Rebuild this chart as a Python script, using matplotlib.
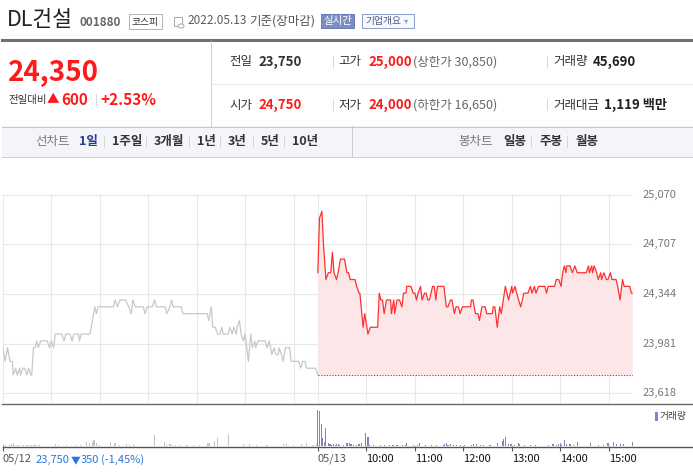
import matplotlib
matplotlib.use("Agg")
import matplotlib.pyplot as plt
from matplotlib.patches import Rectangle, Circle
from matplotlib.lines import Line2D

plt.rcParams['font.family'] = ['Noto Sans CJK KR', 'DejaVu Sans']

# ---- data ----
# minutes after 09:00, 05/12 (previous session, grey line)
prev_minutes = [0, 3, 6, 9, 12, 13, 16, 18, 21, 22, 25, 27, 30, 32, 35, 36, 38, 40, 42, 44,
                47, 55, 58, 60, 63, 65, 73, 76, 78, 83, 86, 88, 94, 95, 97, 108, 111, 114, 116, 118,
                137, 139, 142, 145, 152, 156, 159, 161, 164, 174, 176, 179, 185, 188, 190, 201, 203, 207, 209, 211,
                221, 223, 253, 255, 258, 260, 263, 266, 269, 271, 273, 279, 281, 284, 286, 289, 290, 293, 295, 298,
                300, 301, 304, 307, 309, 312, 313, 316, 325, 327, 330, 333, 336, 338, 341, 342, 345, 347, 350, 355,
                357, 366, 369, 371, 374, 376, 387, 390]
prev_prices = [23950, 23850, 23950, 23850, 23850, 23750, 23800, 23750, 23800, 23750, 23800, 23800, 23750, 23800, 23750, 23750, 23950, 23950, 24000, 23950,
               24000, 24000, 23950, 24000, 23950, 24050, 24050, 24000, 24050, 24050, 24000, 24050, 24050, 24000, 24050, 24050, 24150, 24250, 24200, 24250,
               24250, 24300, 24250, 24300, 24300, 24250, 24200, 24300, 24250, 24250, 24200, 24250, 24250, 24300, 24250, 24250, 24200, 24250, 24300, 24250,
               24250, 24200, 24200, 24150, 24250, 24100, 24100, 24050, 24050, 24100, 24050, 24050, 24100, 24050, 24100, 24050, 24100, 24150, 24050, 24000,
               24050, 24000, 23850, 24050, 23950, 24000, 23950, 24000, 24000, 23950, 24000, 23900, 23950, 23900, 23900, 23950, 23900, 23850, 23950, 23950,
               23850, 23850, 23800, 23850, 23850, 23800, 23800, 23750]

# minutes after 09:00, 05/13 (today, red line)
today_minutes = [0, 2, 5, 7, 10, 13, 16, 18, 20, 23, 25, 28, 33, 36, 38, 40, 46, 48, 51, 52,
                 56, 58, 62, 65, 74, 76, 78, 80, 82, 85, 90, 91, 94, 95, 98, 101, 104, 106, 109, 110,
                 115, 118, 120, 122, 124, 127, 129, 132, 134, 136, 138, 142, 144, 146, 148, 156, 159, 161, 164, 166,
                 169, 171, 174, 176, 179, 189, 190, 192, 195, 198, 200, 203, 207, 209, 216, 217, 219, 222, 225, 227,
                 232, 234, 236, 240, 241, 244, 246, 251, 255, 260, 263, 265, 268, 270, 273, 281, 283, 285, 293, 295,
                 298, 301, 303, 305, 307, 308, 312, 315, 318, 321, 332, 335, 336, 339, 340, 342, 345, 347, 350, 351,
                 354, 357, 359, 362, 364, 369, 371, 374, 377, 379, 386, 388, 389]
today_prices = [24500, 24900, 24950, 24700, 24450, 24500, 24500, 24650, 24500, 24450, 24500, 24600, 24600, 24500, 24500, 24450, 24450, 24400, 24350, 24350,
                24100, 24200, 24050, 24100, 24100, 24350, 24300, 24300, 24200, 24300, 24300, 24200, 24300, 24200, 24300, 24300, 24250, 24350, 24350, 24400,
                24400, 24350, 24350, 24300, 24350, 24400, 24300, 24350, 24350, 24300, 24300, 24400, 24400, 24300, 24400, 24400, 24250, 24250, 24300, 24300,
                24200, 24250, 24250, 24200, 24250, 24250, 24300, 24300, 24200, 24200, 24150, 24250, 24250, 24200, 24200, 24250, 24250, 24100, 24250, 24200,
                24400, 24350, 24300, 24400, 24350, 24400, 24350, 24250, 24350, 24350, 24400, 24350, 24400, 24350, 24400, 24400, 24350, 24400, 24400, 24450,
                24450, 24400, 24500, 24550, 24500, 24550, 24550, 24500, 24550, 24500, 24500, 24550, 24500, 24550, 24500, 24550, 24500, 24450, 24500, 24450,
                24500, 24450, 24450, 24500, 24450, 24450, 24400, 24300, 24450, 24400, 24400, 24350, 24350]

prev_close = 23750
price_ticks = [23618, 23981, 24344, 24707, 25070]

# volume bars (minute, shares)
prev_vol_minutes = [1, 3, 8, 11, 13, 15, 19, 26, 30, 33, 36, 38, 40, 45, 65, 69, 79, 91, 96, 104,
                    107, 111, 113, 116, 120, 133, 139, 145, 153, 157, 162, 188, 200, 203, 207, 210, 214, 219, 228, 236,
                    244, 254, 256, 262, 266, 279, 298, 305, 314, 327, 347, 351, 360, 370, 376, 384, 389]
prev_volumes = [140, 70, 70, 140, 210, 70, 70, 70, 70, 70, 70, 70, 70, 70, 140, 70, 70, 70, 70, 280,
                210, 280, 420, 210, 70, 280, 210, 70, 140, 70, 140, 770, 280, 70, 140, 70, 70, 70, 70, 70,
                70, 210, 210, 350, 560, 840, 140, 140, 70, 70, 140, 140, 70, 140, 210, 70, 140]
today_vol_minutes = [0, 2, 4, 6, 8, 10, 13, 15, 17, 19, 22, 23, 26, 27, 32, 36, 39, 41, 44, 48,
                     50, 52, 54, 59, 62, 64, 69, 77, 82, 89, 93, 98, 105, 108, 110, 118, 123, 126, 133, 141,
                     147, 155, 157, 159, 161, 164, 168, 172, 176, 182, 190, 193, 196, 201, 205, 213, 222, 228, 230, 232,
                     236, 239, 243, 248, 250, 256, 263, 269, 285, 291, 295, 298, 300, 302, 305, 308, 312, 316, 321, 337,
                     347, 353, 359, 366, 370, 374, 378, 389]
today_volumes = [2520, 2450, 1540, 560, 280, 1260, 210, 140, 70, 140, 70, 140, 140, 70, 70, 210, 210, 140, 70, 70,
                 140, 140, 210, 910, 630, 70, 70, 70, 70, 70, 70, 70, 70, 70, 210, 70, 70, 210, 70, 70,
                 70, 70, 140, 210, 70, 140, 70, 70, 70, 70, 70, 140, 140, 70, 70, 70, 210, 350, 490, 630,
                 140, 140, 70, 210, 140, 70, 70, 70, 70, 140, 70, 140, 210, 70, 420, 140, 140, 70, 280, 210,
                 70, 70, 210, 280, 140, 140, 140, 280]

x_ticks = [0, 390, 450, 510, 570, 630, 690, 750]
x_tick_labels = ['05/12', '05/13', '10:00', '11:00', '12:00', '13:00', '14:00', '15:00']

W, H = 693, 472
fig = plt.figure(figsize=(W / 100, H / 100), dpi=100)
fig.patch.set_facecolor('white')


def fx(x):
    return x / W


def fy(y):
    return 1 - y / H


def txt(x, y, s, size=9, color='#333333', weight='normal', ha='left', **kw):
    fig.text(fx(x), fy(y), s, fontsize=size, color=color, fontweight=weight,
             ha=ha, va='center', **kw)


def hline(x0, x1, y, color, lw=0.72):
    fig.add_artist(Line2D([fx(x0), fx(x1)], [fy(y), fy(y)], transform=fig.transFigure,
                          color=color, lw=lw))


def vline(x, y0, y1, color, lw=0.72):
    fig.add_artist(Line2D([fx(x), fx(x)], [fy(y0), fy(y1)], transform=fig.transFigure,
                          color=color, lw=lw))


def box(x0, y0, x1, y1, fc='none', ec='none', lw=0.72):
    fig.add_artist(Rectangle((fx(x0), fy(y1)), (x1 - x0) / W, (y1 - y0) / H,
                             transform=fig.transFigure, fc=fc, ec=ec, lw=lw))


# ---- header ----
txt(7, 20, 'DL건설', size=15.5, color='#222222')
txt(79, 22, '001880', size=8.5, color='#666666', weight='bold')
box(129, 14, 162, 29, fc='white', ec='#b5b5b5')
txt(145.5, 21.5, '코스피', size=7, color='#333333', ha='center')
box(174, 17, 182, 26, fc='white', ec='#aaaaaa')
fig.add_artist(Circle((fx(181), fy(26)), 3 / W, transform=fig.transFigure, fc='white', ec='#aaaaaa', lw=0.72))
txt(187, 21, '2022.05.13', size=8.5, color='#5a5a5a')
txt(249, 21, '기준(장마감)', size=9, color='#555555')
box(321, 14, 354, 28, fc='#7b8dc5', ec='#6b7db8')
txt(337.5, 21, '실시간', size=7.5, color='white', ha='center')
box(362, 14, 414, 28, fc='#f7f8fd', ec='#8d9fcf')
txt(365, 21, '기업개요', size=7, color='#4d5a87')
txt(404, 21, '▾', size=6, color='#8d9fcf')

hline(2, 693, 39.5, '#6e7176', lw=2.2)

# price box
txt(8, 73, '24,350', size=20, color='#ff1a1a', weight='bold')
txt(8, 100, '전일대비', size=7.5, color='#333333')
txt(47, 100, '▲', size=9, color='#ff1a1a')
txt(61, 100, '600', size=11, color='#ff1a1a', weight='bold')
txt(95, 100, '|', size=8, color='#cccccc')
txt(100, 100, '+2.53%', size=11, color='#ff1a1a', weight='bold')
vline(210.5, 41, 126, '#d0d0d0')

rows = [(62, '전일', '23,750', '#333333', '고가', '25,000', '(상한가 30,850)', '거래량', '45,690'),
        (105, '시가', '24,750', '#ff1a1a', '저가', '24,000', '(하한가 16,650)', '거래대금', '1,119 백만')]
for y, l1, v1, c1, l2, v2, note, l3, v3 in rows:
    txt(229, y, l1, size=9, color='#333333')
    txt(258, y, v1, size=9.5, color=c1, weight='bold')
    txt(332, y, '|', size=8, color='#cccccc')
    txt(338, y, l2, size=9, color='#333333')
    txt(368, y, v2, size=9.5, color='#ff1a1a', weight='bold')
    txt(413, y, note, size=9, color='#666666')
    txt(546, y, '|', size=8, color='#cccccc')
    txt(553, y, l3, size=9, color='#333333')
    txt(593 if l3 == '거래량' else 604, y, v3, size=9.5, color='#222222', weight='bold')
hline(211, 693, 83.5, '#e6e6e6')

# tab bar
box(2, 126, 693, 157, fc='#f4f5f8', ec='none')
hline(2, 693, 126.5, '#c8c8c8')
hline(2, 693, 157, '#d0d0d0')
vline(352, 126, 157, '#cccccc')
txt(35, 142, '선차트', size=9, color='#777777')
tabs = [(79, '1일'), (112, '1주일'), (154, '3개월'), (197, '1년'), (228, '3년'), (261, '5년'), (292, '10년')]
for i, (x, s) in enumerate(tabs):
    txt(x, 142, s, size=9, color='#1f3f9f' if i == 0 else '#333333', weight='bold')
    if i < len(tabs) - 1:
        txt(tabs[i + 1][0] - 9, 142, '|', size=8, color='#cccccc')
txt(458, 142, '봉차트', size=9, color='#777777')
for x, s in [(503, '일봉'), (539, '주봉'), (576, '월봉')]:
    txt(x, 142, s, size=9, color='#333333', weight='bold')
txt(530, 142, '|', size=8, color='#cccccc')
txt(566, 142, '|', size=8, color='#cccccc')

# ---- price chart ----
ax = fig.add_axes([fx(2.7), fy(403), (633 - 2.7) / W, (403 - 194) / H])
ax.set_xlim(0, 780)
ax.set_ylim(23545, 25077)
for v in price_ticks:
    ax.axhline(v, color='#e8e8e8', lw=0.8, zorder=0)
for m in [0] + list(range(60, 390, 60)) + x_ticks[1:]:
    ax.axvline(m, color='#e8e8e8', lw=0.8, zorder=0)

today_x = [m + 390 for m in today_minutes]
ax.plot(prev_minutes, prev_prices, color='#c5c8ce', lw=0.9)
ax.fill_between(today_x, today_prices, prev_close, color='#fde6e8', lw=0, zorder=1)
ax.plot(today_x, today_prices, color='#ff3030', lw=0.9, zorder=3)
ax.plot([390, 780], [prev_close, prev_close], color='#555555', lw=0.8, ls=(0, (1, 1.5)), zorder=2)
for s in ax.spines.values():
    s.set_visible(False)
ax.set_xticks([])
ax.set_yticks([])
for v in price_ticks:
    ax.annotate(f'{v:,}', xy=(1, v), xycoords=('axes fraction', 'data'), xytext=(7, 0),
                textcoords='offset points', fontsize=8, color='#777777', va='center', ha='left',
                annotation_clip=False)

# ---- volume chart ----
vax = fig.add_axes([fx(2.7), fy(446), (633 - 2.7) / W, (446 - 403) / H])
vax.set_xlim(0, 780)
vax.set_ylim(0, 3000)
vax.bar(prev_vol_minutes, prev_volumes, width=1.4, color='#c4c4c4', lw=0)
vax.bar([m + 390 for m in today_vol_minutes], today_volumes, width=1.4, color='#8f7dc4', lw=0)
for s in vax.spines.values():
    s.set_visible(False)
vax.set_yticks([])
vax.set_xticks(x_ticks)
vax.set_xticklabels(x_tick_labels)
vax.tick_params(axis='x', length=3.5, width=0.8, color='#555555', pad=2, labelsize=8)
for i, lab in enumerate(vax.get_xticklabels()):
    lab.set_horizontalalignment('left')
    lab.set_color('#555555' if i < 2 else '#111111')

hline(2, 693, 403.5, '#666666', lw=1.0)
hline(2.7, 693, 446.5, '#555555', lw=1.0)

# legend
box(655, 412, 658, 421, fc='#8f7dc4')
txt(660, 416, '거래량', size=7, color='#444444')

# previous-day summary next to 05/12
txt(36, 460, '23,750', size=8, color='#2a76dc')
txt(71, 460, '▼', size=7, color='#2a76dc')
txt(81, 460, '350', size=8, color='#2a76dc')
txt(101, 460, '(-1,45%)', size=8, color='#2a76dc')

fig.savefig('out.png', dpi=100, facecolor='white')
